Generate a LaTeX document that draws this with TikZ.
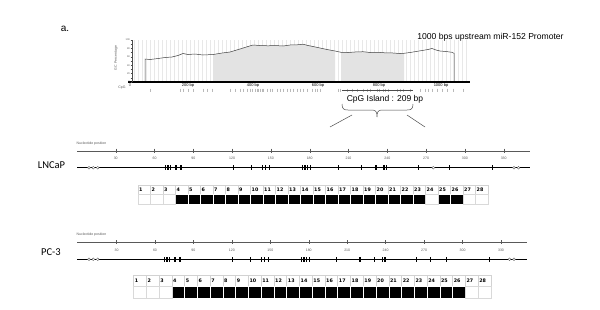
\documentclass[tikz,border=0pt]{standalone}
\usepackage{fontspec}
\setmainfont{Liberation Sans}
\newfontfamily\calib{Carlito}
\newfontfamily\dvs{DejaVu Sans}
\tikzset{
  numcell/.style={draw=gray!35, line width=0.4pt, anchor=north west, inner xsep=1.3pt, inner ysep=0pt, align=left, font=\dvs\bfseries\fontsize{4.8}{6}\selectfont},
  bcell/.style={fill=black, draw=white, line width=0.7pt, anchor=north west, inner sep=0pt},
  ucell/.style={fill=white, draw=gray!30, line width=0.4pt, anchor=north west, inner sep=0pt},
  tinytxt/.style={font=\fontsize{3.5}{4}\selectfont, text=gray!70!black, inner sep=0pt},
  rulerline/.style={draw=gray!70!black, line width=0.4pt},
  cpgline/.style={draw=black, line width=0.45pt},
  opencirc/.style={draw=gray!70!black, fill=white, line width=0.3pt},
  conn/.style={draw=gray!60!black, line width=0.5pt}
}
\def\gccurve{(145,82) -- (145,59) -- (150,59.5) -- (158,58.5) -- (165,57.5) -- (172,57) -- (178,55.5) -- (183,53.5) -- (188,54.5) -- (195,54) -- (203,55) -- (213,54.5) -- (222,53) -- (230,52) -- (240,49) -- (248,46.5) -- (253,45) -- (260,45.5) -- (268,45.8) -- (275,45.5) -- (283,46) -- (290,45) -- (297,44.8) -- (303,44.2) -- (308,45.5) -- (313,46.5) -- (320,48) -- (327,49.5) -- (335,51) -- (341,52.3) -- (348,52.5) -- (355,52) -- (363,51.7) -- (370,52.5) -- (378,52.3) -- (385,52.8) -- (393,53) -- (400,53.5) -- (404,53.3) -- (410,52.5) -- (416,51.5) -- (422,50.5) -- (428,49.5) -- (432,48.5) -- (436,50) -- (440,51) -- (446,51.5) -- (452,52.3) -- (454,53.3) -- (454,82)}
\begin{document}
\begin{tikzpicture}[x=1pt,y=-1pt]
\useasboundingbox[fill=white] (0,0) rectangle (600,309);

% ---- header texts
\node[font=\fontsize{10}{12}\selectfont, inner sep=0pt] (alabel) at (65,29) {a.};
\node[font=\fontsize{8.6}{10}\selectfont, inner sep=0pt] (title) at (490.5,37) {1000 bps upstream miR-152 Promoter};

% ---- GC plot
\foreach \g in {134,138,...,468} \draw[gray!18, line width=0.3pt] (\g,40) -- (\g,82);
\begin{scope}
  \clip (213,38) rectangle (335,82) (341,38) rectangle (404,82);
  \fill[gray!22] \gccurve -- cycle;
\end{scope}
\draw[gray!50!black, line width=0.5pt] \gccurve;
\draw[black, line width=1.5pt] (128,82) -- (470,82);
\draw[gray!60!black, line width=0.4pt] (132,40) -- (132,82);
\foreach \k in {0,...,10} \draw[gray!60!black, line width=0.3pt] (130.5,{82-\k*4.2}) -- (132,{82-\k*4.2});
\foreach \k in {0,2,...,10} \node[font=\fontsize{2.5}{3}\selectfont, text=gray!70!black, inner sep=0pt, anchor=east] at (130,{82-\k*4.2}) {\the\numexpr\k*10\relax};
\node[tinytxt, rotate=90] (gcp) at (116,58) {GC Percentage};
\node[tinytxt] (cpglab) at (122,88) {CpG};
\node[tinytxt, font=\fontsize{4}{4}\selectfont] at (130,85.5) {0};
\foreach \p/\t in {188/200 bp,253/400 bp,318/600 bp,379/800 bp,441/1000 bp}{
  \draw[black, line width=0.3pt] (\p,80.5) -- (\p,82);
  \node[tinytxt, font=\fontsize{4}{4}\selectfont, text=black] at (\p,85.5) {\t};
}
\foreach \t in {60,150,160,175,190,218,230,245,300,315,330,340,350,360,365,375,380,385,390,395,400,410,420,425,440,450,460,470,480,490,500,510,520,530,545,555,560,570,625,630,650,665,680,700,712,720,740,748,760,765,775,800,810,820,840,870,885,895,905,920,935,950,970,1000}
  \draw[gray!55, line width=0.25pt] ({130+\t/3},88.5) -- ({130+\t/3},91.5);
\draw[gray!60!black, line width=0.4pt] (342,90.5) -- (413,90.5);

% ---- CpG island label and brace
\node[font=\fontsize{8.5}{10}\selectfont, inner sep=0pt] (island) at (385,99) {CpG Island : 209 bp};
\draw[conn] (342,104) .. controls (342,109) and (344,110) .. (348,110) -- (372,110) .. controls (376,110) and (377,112) .. (377,117) .. controls (377,112) and (378,110) .. (382,110) -- (407,110) .. controls (411,110) and (413,109) .. (413,104);
\coordinate (bl1) at (352,115);
\coordinate (bl2) at (330,127);
\coordinate (br1) at (407,115);
\coordinate (br2) at (425,127);
\draw[conn] (bl1) -- (bl2);
\draw[conn] (br1) -- (br2);

% ---- LNCaP
\node[font=\calib\fontsize{10.5}{12}\selectfont, inner sep=0pt] (lncap) at (51.5,165) {LNCaP};
\node[tinytxt] (npL) at (91.5,144) {Nucleotide position};
\draw[rulerline] (77,150.7) -- (530,150.7);
\foreach \k in {0,...,10}{
  \draw[rulerline] ({115.7+\k*38.8},148.7) -- ({115.7+\k*38.8},152.7);
  \node[tinytxt] at ({115.7+\k*38.8},158.3) {\the\numexpr(\k+1)*30\relax};
}
\draw[cpgline] (77,167.7) -- (530,167.7);
\foreach \b in {165.5,168,170.5,176,181,233.3,251.7,262.3,265.7,269.7,302.3,305,307.7,310.7,338.3,361.7,376,384,386.3,418.3,449.3,492.3}
  \fill[black] ({\b-0.7},165.2) rectangle ({\b+0.7},170.2);
\foreach \c in {89,93.3,97.7,433.3,514,518.5}
  \draw[opencirc] (\c,167.7) circle (1.4pt);
\foreach \i in {1,...,28}{
  \pgfmathsetmacro\xx{137.7+(\i-1)*12.5}
  \node[numcell, minimum height=9.3pt, text width=9.9pt] (Ln\i) at (\xx,185) {\i};
}
\foreach \i in {4,...,23,25,26}{
  \pgfmathsetmacro\xx{137.7+(\i-1)*12.5}
  \node[bcell, minimum width=12.5pt, minimum height=9.7pt] (Lm\i) at (\xx,194.3) {};
}
\foreach \i in {1,2,3,24,27,28}{
  \pgfmathsetmacro\xx{137.7+(\i-1)*12.5}
  \node[ucell, minimum width=12.5pt, minimum height=9.7pt] (Lm\i) at (\xx,194.3) {};
}

% ---- PC-3
\node[font=\calib\fontsize{10.5}{12}\selectfont, inner sep=0pt] (pc3) at (51,251.7) {PC-3};
\node[tinytxt] (npP) at (91.5,235) {Nucleotide position};
\draw[rulerline] (77,242.3) -- (527,242.3);
\foreach \k in {0,...,10}{
  \draw[rulerline] ({116.5+\k*38.45},240.3) -- ({116.5+\k*38.45},244.3);
  \node[tinytxt] at ({116.5+\k*38.45},250) {\the\numexpr(\k+1)*30\relax};
}
\draw[cpgline] (77,259.3) -- (527,259.3);
\foreach \b in {164.5,167,169.5,175,180,232.3,250.7,261.3,264.7,268.7,301.7,304,306.7,309.3,336.7,360,374.3,382.7,385,416.7,430.7,446.7,489.3}
  \fill[black] ({\b-0.7},256.8) rectangle ({\b+0.7},261.8);
\foreach \c in {89,93.3,97.7,509.5,514}
  \draw[opencirc] (\c,259.3) circle (1.4pt);
\foreach \i in {1,...,28}{
  \pgfmathsetmacro\xx{133.3+(\i-1)*12.76}
  \node[numcell, minimum height=10.7pt, text width=10.16pt] (Pn\i) at (\xx,275) {\i};
}
\foreach \i in {4,...,26}{
  \pgfmathsetmacro\xx{133.3+(\i-1)*12.76}
  \node[bcell, minimum width=12.76pt, minimum height=12pt] (Pm\i) at (\xx,285.7) {};
}
\foreach \i in {1,2,3,27,28}{
  \pgfmathsetmacro\xx{133.3+(\i-1)*12.76}
  \node[ucell, minimum width=12.76pt, minimum height=12pt] (Pm\i) at (\xx,285.7) {};
}
\end{tikzpicture}
\end{document}
